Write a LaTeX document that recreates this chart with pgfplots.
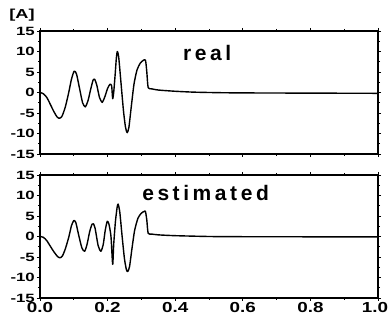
\documentclass[border=0pt]{standalone}
\usepackage{fontspec}
\setmainfont{Liberation Sans}
\newfontfamily\tickfont[FakeStretch=1.4]{Liberation Sans}
\newfontfamily\xtickfont[FakeStretch=1.3]{Liberation Sans}
\newfontfamily\titlefont[LetterSpace=17]{Liberation Sans}
\usepackage{pgfplots}
\pgfplotsset{compat=1.18}
\begin{document}
\begin{tikzpicture}
\useasboundingbox (-40pt,-22pt) rectangle (348pt,298pt);
\pgfplotsset{
  myax/.style={
    scale only axis, width=338pt, height=123pt,
    xmin=0, xmax=1, ymin=-15, ymax=15,
    axis line style={line width=1.1pt},
    xtick={0,0.2,0.4,0.6,0.8,1.0},
    minor x tick num=1,
    ytick={-15,-10,-5,0,5,10,15},
    yticklabels={-15,-10,-5,0,5,10,15},
    minor y tick num=1,
    tick align=outside,
    major tick length=3pt, minor tick length=2pt,
    tick style={line width=0.8pt, black},
    yticklabel style={font=\tickfont\bfseries\fontsize{12}{12}\selectfont, inner sep=1pt, xshift=-1pt},
    xticklabel style={font=\xtickfont\bfseries\fontsize{14.5}{14.5}\selectfont, inner sep=0pt, yshift=-1.5pt},
    every axis plot/.append style={line width=1.4pt, black, line join=round},
    clip=false,
  }
}
\begin{axis}[myax, at={(0pt,0pt)},
  xticklabels={0.0,0.2,0.4,0.6,0.8,{1.0\kern6pt}}]
\addplot[smooth, tension=0.4] coordinates {
(0,0) (0.01,-0.2) (0.02,-1.0) (0.03,-2.3) (0.04,-3.6) (0.05,-4.7) (0.058,-5.2) (0.066,-4.8) (0.075,-3.0) (0.085,-0.2) (0.093,2.6) (0.100,3.9) (0.106,3.4) (0.114,0.5) (0.124,-2.8) (0.132,-3.6) (0.139,-2.0) (0.147,1.2) (0.154,3.0) (0.158,3.1) (0.163,2.0) (0.172,-2.2) (0.180,-3.6) (0.187,-2.0) (0.193,1.5) (0.199,3.7) (0.204,3.0) (0.210,0) (0.215,-6.8) (0.218,-2) (0.223,3.5) (0.228,7) (0.231,7.9) (0.236,6) (0.243,0) (0.250,-5.5) (0.256,-8.2) (0.260,-8.5) (0.265,-7.3) (0.272,-3) (0.280,1.5) (0.290,4.5) (0.300,5.7) (0.308,6.1) (0.312,6.1) (0.316,4) (0.320,0.8) (0.33,0.6) (0.35,0.4) (0.40,0.2) (0.5,0) (0.6,-0.05) (1.0,-0.1)
};
\node[anchor=base west, font=\titlefont\bfseries\fontsize{21}{21}\selectfont, inner sep=0pt] at (axis cs:0.302,8.7) {estimated};
\end{axis}
\begin{axis}[myax, at={(0pt,144pt)}, xticklabels={}]
\addplot[smooth, tension=0.4] coordinates {
(0,0) (0.01,-0.3) (0.02,-1.2) (0.03,-2.8) (0.04,-4.5) (0.05,-5.9) (0.057,-6.3) (0.065,-5.8) (0.075,-3.5) (0.085,0) (0.093,3.2) (0.101,5.2) (0.108,4.5) (0.117,1) (0.126,-2.5) (0.134,-3.5) (0.142,-2) (0.150,0.8) (0.157,3.0) (0.162,3.2) (0.168,1.8) (0.176,-1.2) (0.184,-2.4) (0.192,-1.0) (0.200,1.0) (0.207,2.0) (0.212,1.6) (0.215,-1.5) (0.218,0) (0.222,4) (0.226,8.5) (0.229,10) (0.233,8.5) (0.240,2) (0.247,-4.5) (0.253,-8.5) (0.258,-9.8) (0.263,-8.5) (0.270,-3.5) (0.278,2) (0.287,5.5) (0.297,7.2) (0.305,7.8) (0.312,7.9) (0.316,5) (0.320,1.2) (0.33,0.9) (0.35,0.6) (0.40,0.3) (0.45,0.1) (0.5,0) (0.6,-0.1) (1.0,-0.2)
};
\node[anchor=base west, font=\titlefont\bfseries\fontsize{21}{21}\selectfont, inner sep=0pt] at (axis cs:0.423,7.7) {real};
\node[font=\tickfont\bfseries\fontsize{13}{13}\selectfont, inner sep=0pt] at ([xshift=-18pt,yshift=16pt]rel axis cs:0,1) {[A]};
\end{axis}
\end{tikzpicture}
\end{document}
